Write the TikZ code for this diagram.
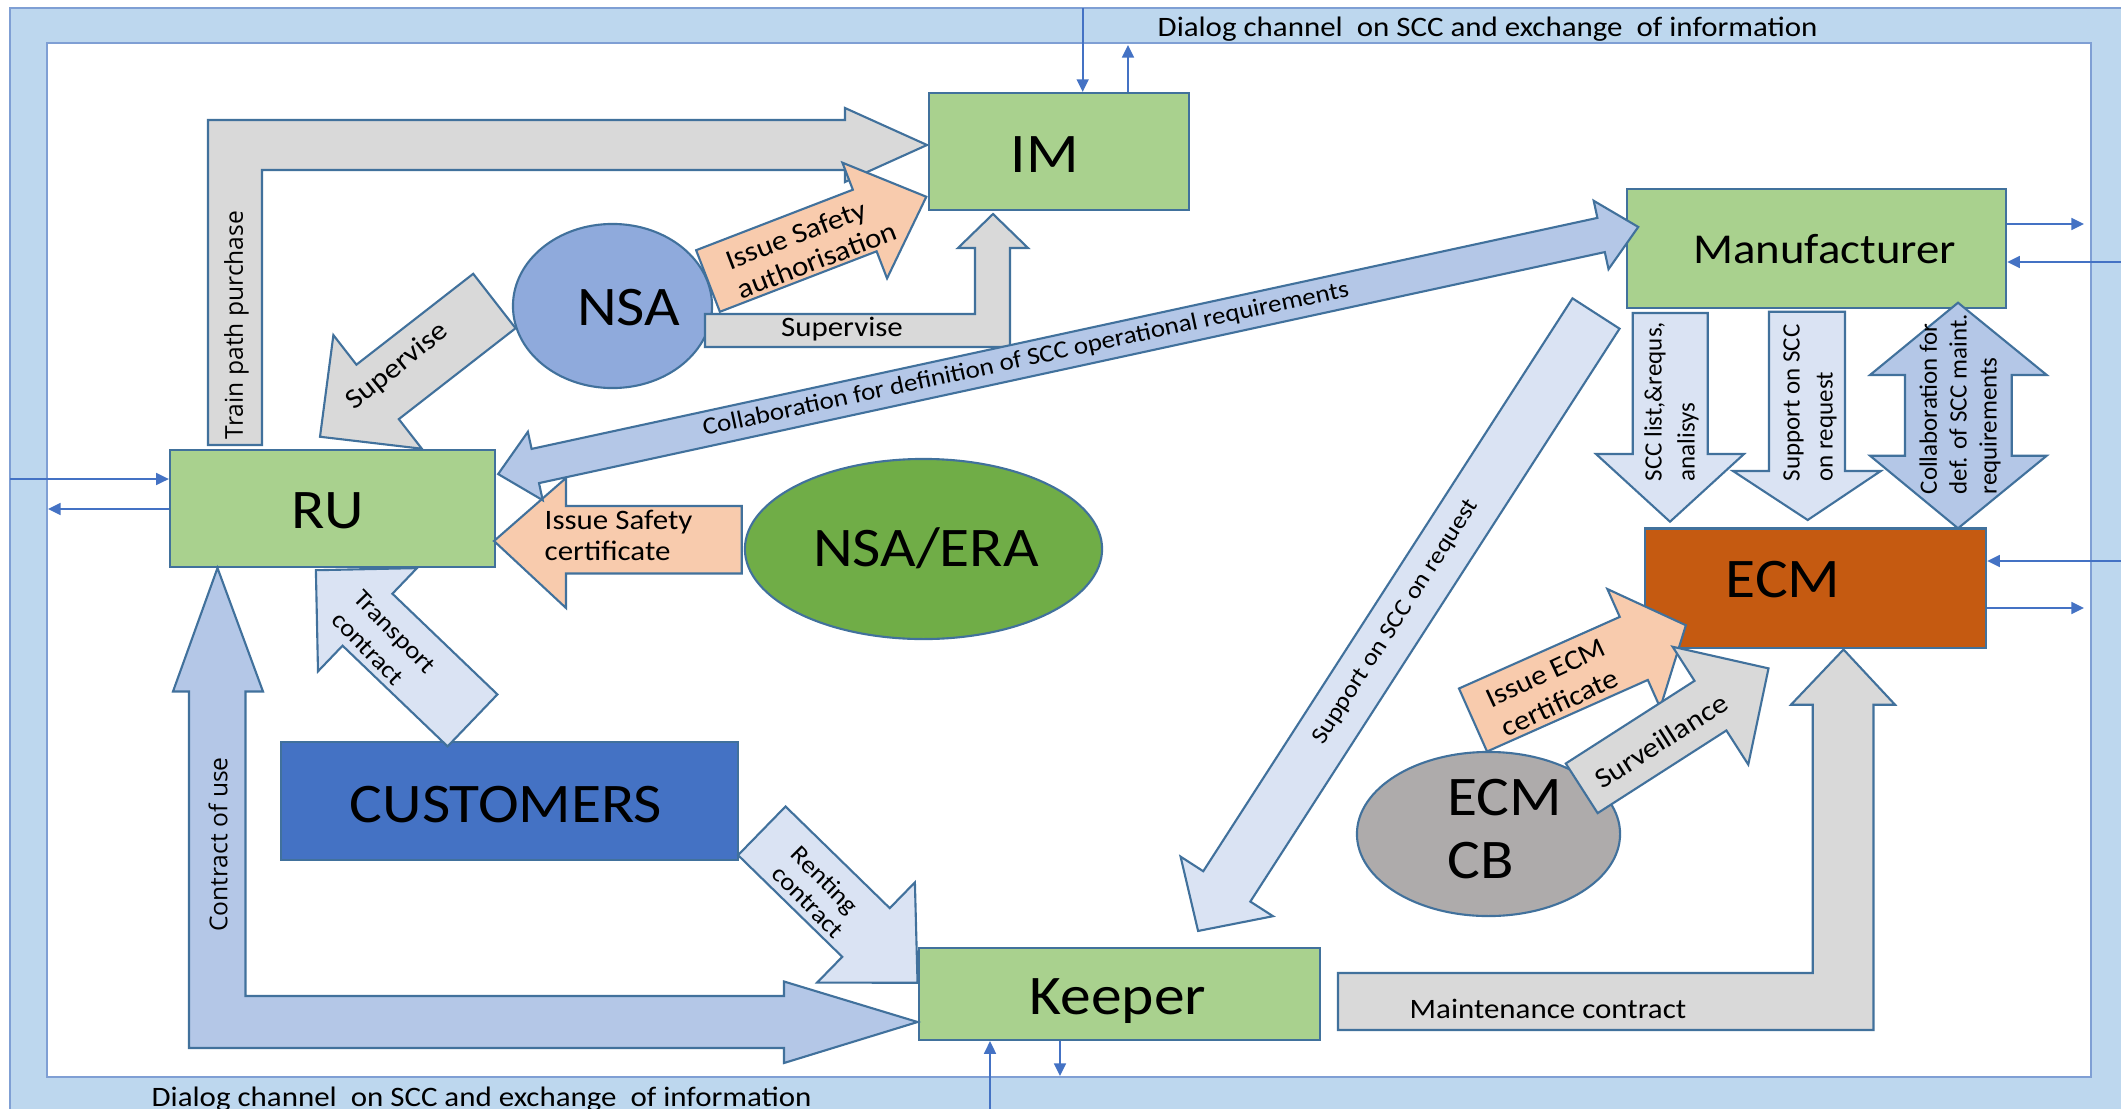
\documentclass[tikz,border=0pt]{standalone}
\usepackage{fontspec}
\setmainfont{Carlito}
\newfontfamily\fcal[FakeStretch=1.1]{Carlito}
\newfontfamily\fcaln{Carlito}
\newfontfamily\fopen{Open Sans}
\usetikzlibrary{arrows.meta,shapes.geometric,calc}
\definecolor{olc}{HTML}{41719C}
\definecolor{connC}{HTML}{4472C4}
\definecolor{bandF}{HTML}{BDD7EE}
\definecolor{bandL}{HTML}{7F9FD4}
\definecolor{greenF}{HTML}{A9D18E}
\definecolor{custF}{HTML}{4472C4}
\definecolor{ecmF}{HTML}{C55A11}
\definecolor{nsaF}{HTML}{8FAADC}
\definecolor{eraF}{HTML}{70AD47}
\definecolor{cbF}{HTML}{AEABAB}
\definecolor{grayF}{HTML}{D9D9D9}
\definecolor{peachF}{HTML}{F8CBAD}
\definecolor{lblueF}{HTML}{DAE3F3}
\definecolor{blueF}{HTML}{B4C7E7}
% single block arrow: style, tail centre, angle, length, head length, half shaft, half head
\newcommand\blockar[7]{%
  \begin{scope}[shift={#2},rotate=#3]
    \draw[#1] (0,-#6) -- ({#4-#5},-#6) -- ({#4-#5},-#7) -- (#4,0) -- ({#4-#5},#7) -- ({#4-#5},#6) -- (0,#6) -- cycle;
  \end{scope}}
% double block arrow: style, centre, angle, half length, head length, half shaft, half head
\newcommand\dblar[7]{%
  \begin{scope}[shift={#2},rotate=#3]
    \draw[#1] (-#4,0) -- ({-#4+#5},-#7) -- ({-#4+#5},-#6) -- ({#4-#5},-#6) -- ({#4-#5},-#7) -- (#4,0) -- ({#4-#5},#7) -- ({#4-#5},#6) -- ({-#4+#5},#6) -- ({-#4+#5},#7) -- cycle;
  \end{scope}}
\begin{document}
\begin{tikzpicture}[x=0.01cm,y=-0.01cm,
  ol/.style={draw=olc,line width=0.6pt,line join=miter},
  boxs/.style={ol,rectangle,inner sep=0pt},
  ell/.style={ol,ellipse,inner sep=0pt},
  conn/.style={draw=connC,line width=0.5pt,-{Triangle[length=3.6pt,width=3.4pt]}},
  biglab/.style={font=\fcal\fontsize{15.9}{18}\selectfont,inner sep=0pt,anchor=base},
  lab8/.style={font=\fcal\fontsize{8}{8.9}\selectfont,inner sep=0pt},
  lab7/.style={font=\fcal\fontsize{7}{8.9}\selectfont,inner sep=0pt},
  vlab/.style={font=\fcaln\fontsize{7.1}{9.4}\selectfont,inner sep=0pt,rotate=90,anchor=west,align=left},
  oplab/.style={font=\fopen\fontsize{7}{8}\selectfont,inner sep=0pt,rotate=90}]
\useasboundingbox (0,0) rectangle (2121,1109);
% frame band
\fill[bandF] (10,8) rectangle (2140,1130);
\draw[bandL,line width=0.6pt] (10,1130) -- (10,8) -- (2140,8);
\filldraw[fill=white,draw=bandL,line width=0.6pt] (47,43) rectangle (2091,1077);
% boxes
\node[boxs,fill=greenF,minimum width=2.60cm,minimum height=1.17cm] (IM) at (1059,151.5) {};
\node[boxs,fill=greenF,minimum width=3.79cm,minimum height=1.19cm] (Mf) at (1816.5,248.5) {};
\node[boxs,fill=greenF,minimum width=3.25cm,minimum height=1.17cm] (RU) at (332.5,508.5) {};
\node[boxs,fill=ecmF,minimum width=3.41cm,minimum height=1.195cm] (ECM) at (1815.5,588.25) {};
\node[boxs,fill=greenF,minimum width=4.01cm,minimum height=0.92cm] (KP) at (1119.5,994) {};
\node[boxs,fill=custF,minimum width=4.57cm,minimum height=1.18cm] (CU) at (509.5,801) {};
\node[ell,fill=nsaF,minimum width=1.99cm,minimum height=1.64cm] (NSA) at (612.5,306) {};
\node[ell,fill=eraF,minimum width=3.57cm,minimum height=1.80cm] (ERA) at (923.5,549) {};
\node[ell,fill=cbF,minimum width=2.63cm,minimum height=1.64cm] (CB) at (1488.5,834) {};
% thin connectors to the dialog channel
\coordinate (imIn) at (1082.7,8);
\coordinate (imOut) at (1128,45);
\draw[conn] (imIn) -- (imIn |- IM.north);
\draw[conn] (imOut |- IM.north) -- (imOut);
\coordinate (ruIn) at (10,479);
\coordinate (ruOut) at (48,509);
\draw[conn] (ruIn) -- (ruIn -| RU.west);
\draw[conn] (ruOut -| RU.west) -- (ruOut);
\coordinate (mfOut) at (2084,224);
\coordinate (mfIn) at (2121,262);
\draw[conn] (mfOut -| Mf.east) -- (mfOut);
\draw[conn] (mfIn) -- (mfIn -| Mf.east);
\coordinate (ecIn) at (2121,561);
\coordinate (ecOut) at (2084,608);
\draw[conn] (ecIn) -- (ecIn -| ECM.east);
\draw[conn] (ecOut -| ECM.east) -- (ecOut);
\coordinate (kpIn) at (990,1109);
\coordinate (kpOut) at (1060,1076);
\draw[conn] (kpIn) -- (kpIn |- KP.south);
\draw[conn] (kpOut |- KP.south) -- (kpOut);
% block arrows
\draw[ol,fill=grayF] (208,445) -- (208,120) -- (845,120) -- (845,108) -- (927,145) -- (845,182) -- (845,170) -- (262,170) -- (262,445) -- cycle;
\draw[ol,fill=grayF] (705,314) -- (975,314) -- (975,248) -- (958,248) -- (993,214) -- (1028,248) -- (1010,248) -- (1010,347) -- (705,347) -- cycle;
\blockar{ol,fill=grayF}{(494.4,301)}{217.9}{221}{73}{34.5}{72}
\blockar{ol,fill=peachF}{(708,281)}{21.1}{234}{66}{33}{62}
\draw[ol,fill=peachF] (741.7,506) -- (566,506) -- (566,478) -- (494,541) -- (566,608) -- (566,573.5) -- (741.7,573.5) -- cycle;
\dblar{ol,fill=blueF}{(1068.2,350.5)}{12.23}{583.3}{38}{17.5}{35}
\blockar{ol,fill=lblueF}{(472.5,720.4)}{136.2}{217}{71.5}{36}{71.5}
\blockar{ol,fill=lblueF}{(761.8,830.8)}{-44.3}{217.6}{72}{34}{70}
\draw[ol,fill=blueF] (189,1048) -- (189,691.5) -- (173,691.5) -- (217.5,568) -- (263,691.5) -- (245.5,691.5) -- (245.5,996) -- (784,996) -- (784,981.5) -- (917.6,1022) -- (784,1063) -- (784,1048) -- cycle;
\blockar{ol,fill=lblueF}{(1596,313.5)}{-122.8}{734.6}{53}{28}{55}
\draw[ol,fill=lblueF] (1632.7,313) -- (1707.7,313) -- (1707.7,454) -- (1744,454) -- (1670,521.7) -- (1596,454) -- (1632.7,454) -- cycle;
\draw[ol,fill=lblueF] (1769,311.7) -- (1845,311.7) -- (1845,471) -- (1880.7,471) -- (1807.7,520) -- (1733,471) -- (1769,471) -- cycle;
\draw[ol,fill=blueF] (1958,302.7) -- (2046.7,375) -- (2011.7,375) -- (2011.7,455.7) -- (2046.7,455.7) -- (1958,528.3) -- (1870,455.7) -- (1905,455.7) -- (1905,375) -- (1870,375) -- cycle;
\blockar{ol,fill=peachF}{(1473,720)}{24}{233}{57}{34.5}{65}
\blockar{ol,fill=grayF}{(1581.7,788.3)}{32.7}{222}{69}{29.5}{70}
\draw[ol,fill=grayF] (1338,973) -- (1812.7,973) -- (1812.7,704.7) -- (1791,704.7) -- (1843.5,649.5) -- (1895,704.7) -- (1873.5,704.7) -- (1873.5,1030) -- (1338,1030) -- cycle;
% node labels
\node[biglab] (tIM) at (1045,172) {IM};
\node[biglab] (tRU) at (328,528) {RU};
\node[font=\fcal\fontsize{12.1}{14}\selectfont,inner sep=0pt,anchor=base] (tMf) at (1824.5,263.4) {Manufacturer};
\node[biglab] (tECM) at (1783,597) {ECM};
\node[biglab] (tKP) at (1118,1014.6) {Keeper};
\node[biglab] (tCU) at (506,822) {CUSTOMERS};
\node[biglab] (tNSA) at (628.6,325) {NSA};
\node[biglab] (tERA) at (926,566) {NSA/ERA};
\node[biglab,anchor=base west] (tCB1) at (1446.7,815) {ECM};
\node[biglab,anchor=base west] (tCB2) at (1446.7,878.6) {CB};
% dialog channel texts
\node[lab8,anchor=base west] (dlgTop) at (1157,36) {Dialog channel\ \ on SCC and exchange\ \ of information};
\node[lab8,anchor=base west] (dlgBot) at (151,1106) {Dialog channel\ \ on SCC and exchange\ \ of information};
% arrow labels
\node[lab8,anchor=base] (tSup2) at (842,336) {Supervise};
\node[lab8,anchor=base west] (tMaint) at (1409,1018) {Maintenance contract};
\node[lab8,anchor=base west] (tISC1) at (544,529) {Issue Safety};
\node[lab8,anchor=base west] (tISC2) at (544,560) {certificate};
\node[lab8,rotate=39] (tSup1) at (397.5,366.7) {Supervise};
\node[lab8,rotate=21,align=left] (tISA) at (811,245.6) {Issue Safety\\authorisation};
\node[lab8,rotate=25,align=center,font=\fcal\fontsize{8}{9.5}\selectfont] (tIEC) at (1553,688) {Issue ECM\\certificate};
\node[lab8,rotate=32.5] (tSurv) at (1661,741) {Surveillance};
\node[lab7,rotate=-46,align=left] (tTr) at (383.7,642.8) {Transport\\contract};
\node[lab7,rotate=-45,align=left,font=\fcal\fontsize{7}{7.9}\selectfont] (tRe) at (818,892) {Renting\\contract};
\node[font=\fcal\fontsize{6.8}{8}\selectfont,inner sep=0pt,rotate=57.2] (tSupReq) at (1396,622) {Support on SCC on request};
\node[lab7,rotate=12.23] (tCol) at (1026,359.6) {Collaboration for definition of SCC operational requirements};
\node[oplab] (tTrain) at (236.5,325) {Train path purchase};
\node[oplab] (tUse) at (218,844.5) {Contract of use};
\node[vlab] (tScc) at (1671.5,482) {SCC list,\&requs,\\analisys};
\node[vlab] (tSupp) at (1810,482) {Support on SCC\\on request};
\node[vlab,font=\fcaln\fontsize{7.1}{8.5}\selectfont] (tColm) at (1960,495) {Collaboration for\\def. of SCC maint.\\requirements};
\end{tikzpicture}
\end{document}
